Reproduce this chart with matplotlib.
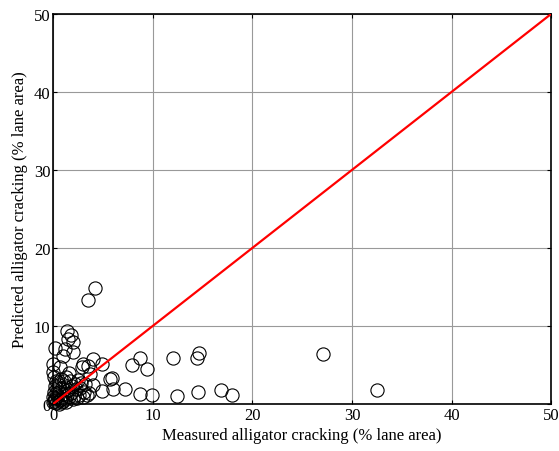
import matplotlib
matplotlib.use('Agg')
import matplotlib.pyplot as plt

# measured vs predicted alligator cracking (% lane area)
measured = [
    4.2, 3.5, 1.4, 1.8, 2.0, 1.5, 0.2, 1.2, 2.0, 1.0, 0.0, 3.0, 4.0, 4.9,
    2.9, 3.5, 0.7, 0.0, 1.6, 3.7, 5.9, 4.0, 4.9, 6.0, 7.2, 8.7, 9.9, 7.9,
    8.7, 9.4, 12.0, 12.4, 14.6, 14.4, 14.5, 16.9, 18.0, 27.1, 32.5, 5.7,
    0.1, 0.3, 0.5, 0.8, 1.1, 1.3, 1.7, 2.2, 2.5, 2.8, 3.2, 3.6,
    0.2, 0.4, 0.6, 0.9, 1.2, 1.5, 1.9, 2.3, 2.7, 3.1, 3.4,
    0.1, 0.3, 0.6, 1.0, 1.4, 1.8, 2.1, 2.6, 3.0,
    0.0, 0.2, 0.5, 0.8, 1.2, 1.6, 2.0, 2.4,
    0.1, 0.4, 0.7, 1.0, 1.3, 0.3, 0.6, 0.9, 0.2, 0.0,
]
predicted = [
    14.9, 13.3, 9.4, 8.8, 7.9, 8.3, 7.2, 7.1, 6.7, 6.2, 5.1, 5.1, 5.8, 5.1,
    4.7, 4.9, 4.7, 4.1, 4.0, 3.8, 3.3, 2.4, 1.7, 1.9, 1.9, 1.3, 1.2, 5.0,
    5.9, 4.5, 5.9, 1.0, 6.5, 5.9, 1.5, 1.8, 1.2, 6.4, 1.8, 3.2,
    3.4, 3.0, 2.8, 3.2, 2.9, 3.4, 3.0, 2.6, 3.1, 2.7, 2.5, 1.4,
    2.3, 2.0, 2.4, 2.1, 2.2, 1.8, 2.3, 1.9, 2.0, 1.6, 1.2,
    1.6, 1.4, 1.5, 1.3, 1.1, 1.4, 1.0, 1.2, 0.9,
    0.9, 0.8, 1.0, 0.7, 0.6, 0.9, 0.6, 0.8,
    0.4, 0.3, 0.5, 0.4, 0.2, 0.1, 0.0, 0.2, 0.6, 0.3,
]
line_pts = [0, 50]

plt.rcParams['font.family'] = ['Liberation Serif', 'DejaVu Serif']
plt.rcParams['font.size'] = 12

fig = plt.figure(figsize=(5.59, 4.52), dpi=100)
ax = fig.add_axes([0.095, 0.104, 0.891, 0.863])

ax.grid(True, color='#999999', linestyle='-', linewidth=0.8)
ax.set_axisbelow(True)
ax.plot(measured, predicted, 'o', markerfacecolor='none', markeredgecolor='black',
        markersize=9.5, markeredgewidth=0.8, clip_on=False, zorder=3)
ax.plot(line_pts, line_pts, color='red', linewidth=1.6, zorder=4)

ax.set_xlim(0, 50)
ax.set_ylim(0, 50)
ax.set_xticks([0, 10, 20, 30, 40, 50])
ax.set_yticks([0, 10, 20, 30, 40, 50])
ax.tick_params(direction='in', length=3, top=True, right=True, pad=2)
for s in ax.spines.values():
    s.set_linewidth(1.2)

ax.set_xlabel('Measured alligator cracking (% lane area)', labelpad=3)
ax.set_ylabel('Predicted alligator cracking (% lane area)', labelpad=4)

fig.savefig('out.png', dpi=100)
